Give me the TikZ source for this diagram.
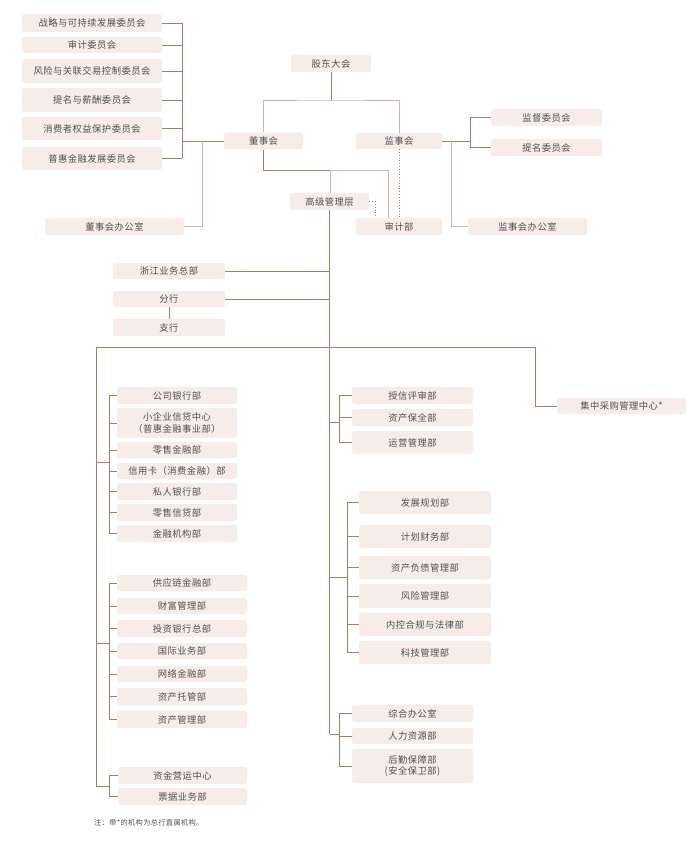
\documentclass[tikz,border=0pt]{standalone}
\usepackage{fontspec}
\newfontfamily\cjk[LetterSpace=5]{Noto Sans CJK SC}
\definecolor{boxfill}{HTML}{F7ECE8}
\definecolor{txt}{HTML}{505050}
\definecolor{lnc}{HTML}{A67C6A}
\definecolor{lnl}{HTML}{CDB4A9}
\tikzset{
  box/.style={fill=boxfill, rounded corners=2.5pt, inner sep=0pt, text=txt, align=center,
    font=\cjk\fontsize{9.3}{11.5}\selectfont},
  conn/.style={draw=lnc, line width=0.9pt},
  lconn/.style={draw=lnl, line width=0.9pt},
  dconn/.style={draw=lnc, line width=0.8pt, dotted},
}
\begin{document}
\begin{tikzpicture}[x=1pt,y=-1pt]
\useasboundingbox[fill=white] (0,0) rectangle (700,842);

% committees
\node[box, minimum width=140, minimum height=18] (c1) at (92,23) {战略与可持续发展委员会};
\node[box, minimum width=140, minimum height=16] (c2) at (92,45) {审计委员会};
\node[box, minimum width=140, minimum height=24] (c3) at (92,71) {风险与关联交易控制委员会};
\node[box, minimum width=140, minimum height=24] (c4) at (92,100) {提名与薪酬委员会};
\node[box, minimum width=140, minimum height=23] (c5) at (92,128.5) {消费者权益保护委员会};
\node[box, minimum width=140, minimum height=23] (c6) at (92,158.5) {普惠金融发展委员会};

\node[box, minimum width=80, minimum height=17] (gd) at (331,63.5) {股东大会};
\node[box, minimum width=79, minimum height=17] (dsh) at (263.5,141) {董事会};
\node[box, minimum width=139, minimum height=17] (dshb) at (114.5,226.5) {董事会办公室};
\node[box, minimum width=86, minimum height=16] (jsh) at (399,141) {监事会};
\node[box, minimum width=111, minimum height=17] (jdw) at (546.5,117.5) {监督委员会};
\node[box, minimum width=111, minimum height=17] (tmw) at (546.5,147.5) {提名委员会};
\node[box, minimum width=119, minimum height=17] (jshb) at (527.5,226.5) {监事会办公室};
\node[box, minimum width=79, minimum height=17] (gj) at (329.5,201.5) {高级管理层};
\node[box, minimum width=86, minimum height=17] (sjb) at (399,226.5) {审计部};

\node[box, minimum width=112, minimum height=16] (zj) at (169,271) {浙江业务总部};
\node[box, minimum width=112, minimum height=16] (fh) at (169,299) {分行};
\node[box, minimum width=112, minimum height=17] (zh) at (169,327.5) {支行};
\node[box, minimum width=129, minimum height=16] (jc) at (621.5,406) {集中采购管理中心*};

% left group 1
\node[box, minimum width=120, minimum height=17] (a1) at (177,395.5) {公司银行部};
\node[box, minimum width=120, minimum height=30] (a2) at (177,423) {小企业信贷中心\\（普惠金融事业部）};
\node[box, minimum width=120, minimum height=16] (a3) at (177,450) {零售金融部};
\node[box, minimum width=120, minimum height=16] (a4) at (177,471) {信用卡（消费金融）部};
\node[box, minimum width=120, minimum height=17] (a5) at (177,491.5) {私人银行部};
\node[box, minimum width=120, minimum height=17] (a6) at (177,512.5) {零售信贷部};
\node[box, minimum width=120, minimum height=17] (a7) at (177,533.5) {金融机构部};

% left group 2
\node[box, minimum width=130, minimum height=16] (b1) at (182,583) {供应链金融部};
\node[box, minimum width=130, minimum height=16] (b2) at (182,606) {财富管理部};
\node[box, minimum width=130, minimum height=17] (b3) at (182,628.5) {投资银行总部};
\node[box, minimum width=130, minimum height=16] (b4) at (182,651) {国际业务部};
\node[box, minimum width=130, minimum height=16] (b5) at (182,674) {网络金融部};
\node[box, minimum width=130, minimum height=17] (b6) at (182,696.5) {资产托管部};
\node[box, minimum width=130, minimum height=17] (b7) at (182,719.5) {资产管理部};

% left group 3
\node[box, minimum width=129, minimum height=17] (d1) at (182.5,775.5) {资金营运中心};
\node[box, minimum width=129, minimum height=17] (d2) at (182.5,796.5) {票据业务部};

% right group A
\node[box, minimum width=121, minimum height=17] (r1) at (412.5,395.5) {授信评审部};
\node[box, minimum width=121, minimum height=17] (r2) at (412.5,417.5) {资产保全部};
\node[box, minimum width=121, minimum height=23] (r3) at (412.5,442.5) {运营管理部};

% right group B
\node[box, minimum width=132, minimum height=23] (s1) at (425,502.5) {发展规划部};
\node[box, minimum width=132, minimum height=23] (s2) at (425,536.5) {计划财务部};
\node[box, minimum width=132, minimum height=23] (s3) at (425,567.5) {资产负债管理部};
\node[box, minimum width=132, minimum height=24] (s4) at (425,596) {风险管理部};
\node[box, minimum width=132, minimum height=23] (s5) at (425,624.5) {内控合规与法律部};
\node[box, minimum width=132, minimum height=23] (s6) at (425,652.5) {科技管理部};

% right group C
\node[box, minimum width=121, minimum height=17] (t1) at (412.5,713.5) {综合办公室};
\node[box, minimum width=121, minimum height=16] (t2) at (412.5,736) {人力资源部};
\node[box, minimum width=121, minimum height=34] (t3) at (412.5,766) {后勤保障部\\(安全保卫部)};

\node[anchor=west, inner sep=0pt, text=txt, font=\cjk\fontsize{7.2}{8}\selectfont] (note) at (94,823) {注：带*的机构为总行直属机构。};

% ---------- connectors ----------
\coordinate (busA) at (182,0);
\coordinate (busB) at (202,0);
\foreach \n in {c1,c2,c3,c4,c5,c6} \draw[conn] (\n.east) -- (\n.east -| busA);
\draw[conn] (c1.east -| busA) -- (c6.east -| busA);
\draw[conn] (busA |- dsh.west) -- (dsh.west);
\draw[lconn] (busB |- dsh.west) -- (busB |- dshb.east) -- (dshb.east);

\coordinate (split) at (331,100);
\draw[conn] (gd.south) -- (split);
\draw[lconn] (dsh.north) |- (split) -| (jsh.north);

\coordinate (hj) at (330,170);
\draw[conn] (dsh.south) |- (hj);
\draw[lconn] (hj) -| ([xshift=-11pt]sjb.north);
\draw[lconn] (hj) -- (gj.north -| hj);
\draw[dconn] (gj.east) -| ([xshift=-24pt]sjb.north);
\draw[dconn] (jsh.south) -- (sjb.north);

\coordinate (rb) at (470,0);
\draw[conn] (jsh.east) -- (jsh.east -| rb);
\draw[conn] (rb |- jdw.west) -- (rb |- tmw.west);
\draw[conn] (rb |- jdw.west) -- (jdw.west);
\draw[conn] (rb |- tmw.west) -- (tmw.west);
\draw[lconn] ([xshift=9pt]jsh.east) |- (jshb.west);

% trunk
\coordinate (trEnd) at (329.5,734);
\draw[conn] (gj.south) -- (trEnd);
\draw[conn] (zj.east) -- (zj.east -| trEnd);
\draw[conn] (fh.east) -- (fh.east -| trEnd);
\draw[conn] (fh.south) -- (zh.north);

\coordinate (hl) at (96,347);
\coordinate (hr) at (535,347);
\coordinate (lEnd) at (96,786);
\draw[conn] (lEnd) -- (hl) -- (hr) |- (jc.west);

% left brackets
\coordinate (lb) at (109,0);
\foreach \n in {a1,a2,a3,a4,a5,a6,a7,b1,b2,b3,b4,b5,b6,b7,d1,d2} \draw[conn] (\n.west) -- (\n.west -| lb);
\draw[conn] (a1.west -| lb) -- (a7.west -| lb);
\draw[conn] (b1.west -| lb) -- (b7.west -| lb);
\draw[conn] (d1.west -| lb) -- (d2.west -| lb);
\coordinate (ja) at (96,462);
\coordinate (jb) at (96,643);
\draw[conn] (ja) -- (ja -| lb);
\draw[conn] (jb) -- (jb -| lb);
\draw[conn] (lEnd) -- (lEnd -| lb);

% right brackets
\coordinate (ra) at (339,0);
\coordinate (rbb) at (347,0);
\foreach \n in {r1,r2,r3,t1,t2,t3} \draw[conn] (\n.west) -- (\n.west -| ra);
\foreach \n in {s1,s2,s3,s4,s5,s6} \draw[conn] (\n.west) -- (\n.west -| rbb);
\draw[conn] (r1.west -| ra) -- (r3.west -| ra);
\draw[conn] (s1.west -| rbb) -- (s6.west -| rbb);
\draw[conn] (t1.west -| ra) -- (t3.west -| ra);
\coordinate (jra) at (329.5,422);
\coordinate (jrb) at (329.5,577);
\draw[conn] (jra) -- (jra -| ra);
\draw[conn] (jrb) -- (jrb -| rbb);
\draw[conn] (trEnd) -- (trEnd -| ra);
\end{tikzpicture}
\end{document}
